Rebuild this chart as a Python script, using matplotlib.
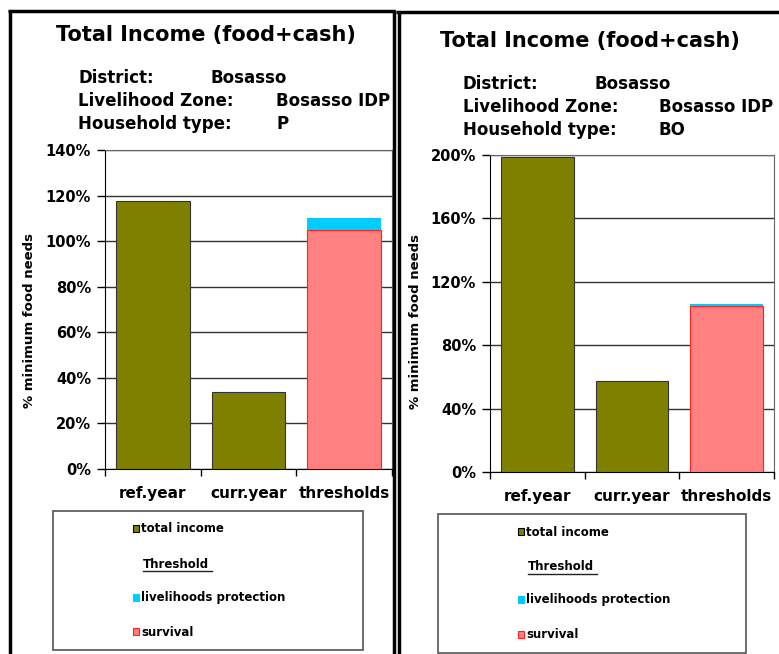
import matplotlib
matplotlib.use('Agg')
import matplotlib.pyplot as plt
from matplotlib.patches import Rectangle
from matplotlib.lines import Line2D
from matplotlib.ticker import FuncFormatter

plt.rcParams['font.family'] = ['DejaVu Sans']
plt.rcParams['font.weight'] = 'bold'

W, H = 779, 654

categories = ['ref.year', 'curr.year', 'thresholds']

# household type P
p_income = [117.5, 33.8]
p_survival = 105
p_protection = 5

# household type BO
bo_income = [198.5, 57.2]
bo_survival = 105
bo_protection = 1.2

OLIVE = '#808000'
CYAN = '#00CCFF'
PINK = '#FF8080'


def fx(x):
    return x / W


def fy(y):
    return 1 - y / H


fig = plt.figure(figsize=(W / 100, H / 100), dpi=100)


def panel(ax, income, survival, protection, ymax, step, label_y):
    ax.bar([0, 1], income, width=0.77, color=OLIVE, edgecolor='#333333', lw=0.8, zorder=3)
    ax.bar(2, survival, width=0.77, color=PINK, edgecolor='#FF2020', lw=0.8, zorder=3)
    ax.bar(2, protection, bottom=survival, width=0.77, color=CYAN, lw=0, zorder=3)
    ax.set_xlim(-0.5, 2.5)
    ax.set_ylim(0, ymax)
    ax.set_yticks(range(0, ymax + 1, step))
    ax.yaxis.set_major_formatter(FuncFormatter(lambda v, _: f'{v:.0f}%'))
    ax.yaxis.grid(True, color='#333333', lw=1)
    ax.set_axisbelow(True)
    ax.set_xticks([0, 1, 2])
    ax.set_xticklabels(categories, fontsize=11, fontweight='bold')
    ax.set_xticks([-0.5, 0.5, 1.5, 2.5], minor=True)
    ax.tick_params(axis='x', which='major', length=0, pad=12)
    ax.tick_params(axis='x', which='minor', length=5, width=1, direction='out')
    ax.tick_params(axis='y', length=6, width=1, direction='out', labelsize=10.5, pad=4)
    for lbl in ax.get_yticklabels():
        lbl.set_fontweight('bold')
    ax.set_ylabel('% minimum food needs', fontsize=9.5, fontweight='bold')
    ax.yaxis.set_label_coords(-0.24, label_y)
    for s in ['top', 'right']:
        ax.spines[s].set_color('#666666')
    ax.spines['left'].set_color('black')
    ax.spines['bottom'].set_color('black')


ax1 = fig.add_axes([fx(105), fy(469), fx(392) - fx(105), fy(150) - fy(469)])
panel(ax1, p_income, p_survival, p_protection, 140, 20, 0.464)

ax2 = fig.add_axes([fx(490), fy(472), fx(774) - fx(490), fy(155) - fy(472)])
panel(ax2, bo_income, bo_survival, bo_protection, 200, 40, 0.476)


def header(x0, y0, title_x, title_y, hh_type, col2, col3):
    fig.text(fx(title_x), fy(title_y), 'Total Income (food+cash)', fontsize=15,
             fontweight='bold', ha='center', va='center')
    rows = [('District:', 'Bosasso', col2),
            ('Livelihood Zone:', 'Bosasso IDP', col3),
            ('Household type:', hh_type, col3)]
    for i, (k, v, cx) in enumerate(rows):
        y = y0 + i * 23
        fig.text(fx(x0), fy(y), k, fontsize=12, fontweight='bold', va='center')
        fig.text(fx(cx), fy(y), v, fontsize=12, fontweight='bold', va='center')


header(78, 78, 206, 35, 'P', 210, 276)
header(463, 84, 590, 41, 'BO', 594, 659)


def legend_box(x0, y0, x1, y1, sq_x, rows_y):
    fig.add_artist(Rectangle((fx(x0), fy(y1)), fx(x1) - fx(x0), fy(y0) - fy(y1),
                             transform=fig.transFigure, fill=False,
                             edgecolor='#555555', lw=1.2))
    entries = [('total income', OLIVE, 'black'),
               ('Threshold', None, None),
               ('livelihoods protection', CYAN, CYAN),
               ('survival', PINK, '#FF2020')]
    for (label, fc, ec), y in zip(entries, rows_y):
        if fc is None:
            fig.text(fx(sq_x + 10), fy(y), label, fontsize=8.5, fontweight='bold',
                     va='center')
            fig.add_artist(Line2D([fx(sq_x + 10), fx(sq_x + 79)], [fy(y + 7), fy(y + 7)],
                                  transform=fig.transFigure, color='#222222', lw=1))
            continue
        fig.add_artist(Rectangle((fx(sq_x), fy(y + 3)), fx(6), 7 / H,
                                 transform=fig.transFigure, facecolor=fc,
                                 edgecolor=ec, lw=0.8))
        fig.text(fx(sq_x + 8), fy(y), label, fontsize=8.5, fontweight='bold', va='center')


legend_box(53, 511, 363, 650, 133, [529, 564, 598, 632])
legend_box(438, 514, 746, 653, 518, [532, 567, 600, 635])

# panel frames
frame = dict(transform=fig.transFigure, color='black', lw=2.5, solid_capstyle='butt')
fig.add_artist(Line2D([fx(8), fx(395)], [fy(11), fy(11)], **frame))
fig.add_artist(Line2D([fx(10), fx(10)], [fy(10), fy(660)], **frame))
fig.add_artist(Line2D([fx(394), fx(394)], [fy(10), fy(660)], **frame))
fig.add_artist(Line2D([fx(396), fx(779)], [fy(12), fy(12)], **frame))
fig.add_artist(Line2D([fx(398.5), fx(398.5)], [fy(11), fy(660)], **frame))

fig.savefig('out.png', dpi=100)
